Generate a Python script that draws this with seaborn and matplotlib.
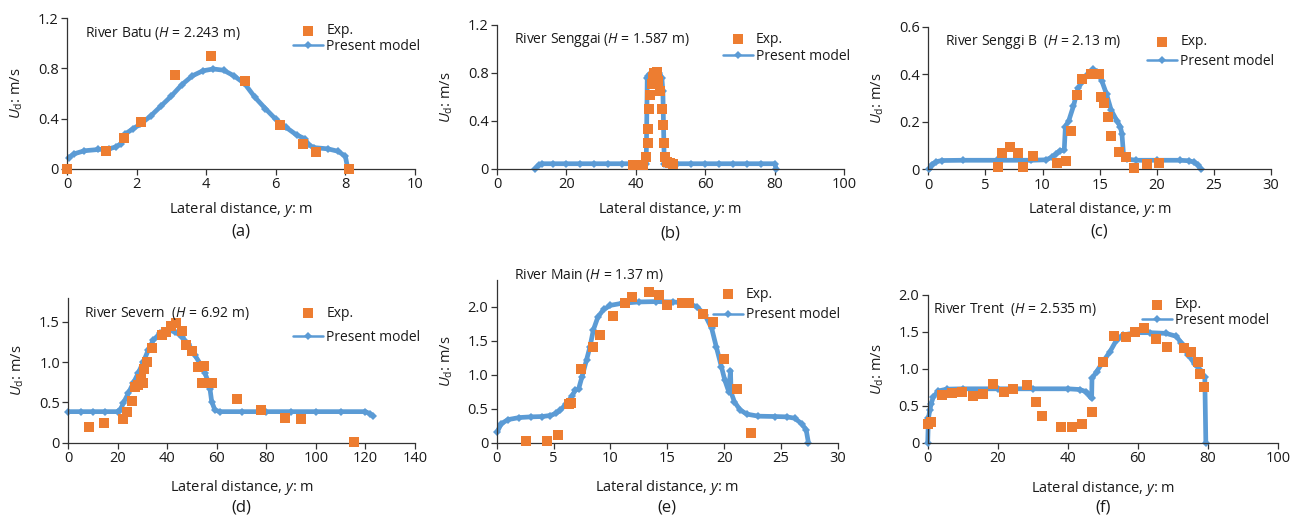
import numpy as np
import pandas as pd
import seaborn as sns
import matplotlib.pyplot as plt
import matplotlib.ticker as mticker

# ---------------- data ----------------
# (a) River Batu
batu_exp_y_pos = [0.0, 1.12, 1.63, 2.13, 3.09, 4.13, 5.12, 6.12, 6.77, 7.15, 8.1]
batu_exp_u = [0.0, 0.14, 0.246, 0.37, 0.747, 0.895, 0.70, 0.347, 0.20, 0.135, 0.0]
batu_mod_y_pos = [0.05, 0.2, 0.5, 0.9, 1.2, 1.4, 1.55, 1.62, 1.68, 1.9, 2.1, 2.4, 2.7, 3.0,
                  3.3, 3.6, 3.9, 4.2, 4.5, 4.8, 5.1, 5.4, 5.7, 6.0, 6.3, 6.6, 6.84, 6.92,
                  7.1, 7.5, 7.8, 8.0, 8.07]
batu_mod_u = [0.09, 0.12, 0.145, 0.155, 0.16, 0.175, 0.2, 0.235, 0.28, 0.32, 0.355, 0.42,
              0.5, 0.58, 0.67, 0.74, 0.78, 0.795, 0.785, 0.74, 0.68, 0.57, 0.48, 0.395,
              0.33, 0.27, 0.24, 0.195, 0.17, 0.16, 0.14, 0.1, 0.0]

# (b) River Senggai
senggai_exp_y_pos = [39.3, 40.7, 42.2, 42.9, 43.4, 43.6, 43.9, 44.1, 44.6, 44.9, 45.2, 46.0,
                     46.5, 47.0, 47.5, 47.8, 48.1, 48.4, 49.0, 49.9, 50.8]
senggai_exp_u = [0.033, 0.033, 0.033, 0.10, 0.22, 0.33, 0.50, 0.617, 0.71, 0.77, 0.80, 0.81,
                 0.73, 0.65, 0.50, 0.37, 0.22, 0.10, 0.06, 0.047, 0.04]
senggai_mod_y_pos = [11.0, 12.0, 13.0, 16, 20, 24, 28, 32, 36, 40, 43.0, 43.3, 43.6, 44.2,
                     45.0, 46.0, 46.8, 47.5, 47.8, 48.2, 48.6, 52, 56, 60, 64, 68, 72, 76,
                     80.0, 80.5]
senggai_mod_u = [0.0, 0.035, 0.044, 0.044, 0.044, 0.044, 0.044, 0.044, 0.044, 0.044, 0.044,
                 0.76, 0.775, 0.79, 0.805, 0.81, 0.8, 0.76, 0.65, 0.044, 0.044, 0.044, 0.044,
                 0.044, 0.044, 0.044, 0.044, 0.044, 0.044, 0.0]

# (c) River Senggi B
senggib_exp_y_pos = [6.07, 6.48, 7.15, 7.82, 8.26, 9.13, 11.23, 12.02, 12.46, 13.01, 13.48,
                     14.24, 14.94, 15.09, 15.41, 15.70, 15.99, 16.69, 17.27, 18.03, 19.11, 20.19]
senggib_exp_u = [0.011, 0.07, 0.095, 0.07, 0.011, 0.056, 0.028, 0.035, 0.16, 0.313, 0.378,
                 0.40, 0.40, 0.306, 0.278, 0.219, 0.14, 0.071, 0.053, 0.007, 0.021, 0.025]
senggib_mod_y_pos = [0.1, 0.3, 0.7, 1.2, 3, 6, 9, 10.3, 10.8, 11.2, 11.5, 11.9, 12.0, 12.3,
                     12.7, 13.1, 13.5, 13.9, 14.4, 14.8, 15.2, 15.6, 16.0, 16.5, 16.8, 16.95,
                     17.1, 17.4, 18.2, 20, 22, 22.8, 23.3, 23.6, 23.9]
senggib_mod_u = [0.0, 0.02, 0.032, 0.037, 0.038, 0.038, 0.038, 0.04, 0.05, 0.065, 0.078,
                 0.08, 0.18, 0.205, 0.265, 0.34, 0.37, 0.395, 0.42, 0.41, 0.37, 0.317, 0.25,
                 0.205, 0.18, 0.15, 0.055, 0.043, 0.038, 0.038, 0.038, 0.036, 0.03, 0.018, 0.0]

# (d) River Severn
severn_exp_y_pos = [8.5, 14.5, 21.9, 23.6, 25.7, 26.8, 28.1, 29.5, 30.3, 30.7, 31.7, 33.9,
                    38.0, 39.3, 41.5, 43.3, 46.0, 47.4, 50.1, 52.2, 54.9, 54.1, 57.9, 68.2,
                    78.0, 87.7, 93.9, 115.5]
severn_exp_u = [0.19, 0.25, 0.29, 0.38, 0.52, 0.69, 0.71, 0.785, 0.74, 0.91, 1.0, 1.18, 1.33,
                1.37, 1.45, 1.48, 1.38, 1.21, 1.14, 0.94, 0.95, 0.74, 0.74, 0.54, 0.40, 0.31,
                0.29, 0.012]
severn_mod_y_pos = [0, 5, 10, 15, 20, 21, 22.2, 24.2, 26.2, 28.2, 30.3, 32.3, 34.3, 37, 40.4,
                    43.1, 45.8, 48.5, 51.1, 53.2, 55.2, 56.5, 57.2, 57.9, 59.2, 61.2, 70, 80,
                    90, 100, 110, 120, 121.8, 123.1]
severn_mod_u = [0.385, 0.385, 0.385, 0.385, 0.385, 0.405, 0.49, 0.61, 0.735, 0.86, 1.0, 1.15,
                1.27, 1.355, 1.395, 1.376, 1.314, 1.223, 1.087, 0.98, 0.86, 0.756, 0.67, 0.51,
                0.405, 0.385, 0.385, 0.385, 0.385, 0.385, 0.385, 0.385, 0.36, 0.33]

# (e) River Main
main_exp_y_pos = [2.58, 4.39, 5.41, 6.35, 6.5, 7.4, 8.43, 9.07, 10.24, 11.27, 11.85, 13.4,
                  14.28, 15.01, 16.33, 16.92, 18.15, 18.97, 19.96, 21.13, 22.39]
main_exp_u = [0.025, 0.025, 0.118, 0.57, 0.59, 1.09, 1.41, 1.59, 1.87, 2.06, 2.14, 2.21, 2.17,
              2.02, 2.06, 2.05, 1.89, 1.77, 1.235, 0.79, 0.147]
main_mod_y_pos = [0.05, 0.4, 1.0, 2.0, 3.0, 4.0, 4.7, 5.2, 5.6, 6.1, 6.6, 6.9, 7.2, 7.5, 7.9,
                  8.2, 8.5, 8.9, 9.4, 10.0, 11.0, 12.5, 14.0, 15.5, 16.8, 17.6, 18.3, 18.9,
                  19.3, 19.75, 20.05, 20.4, 20.55, 20.6, 20.9, 21.4, 22.0, 23.0, 24.5, 25.5,
                  26.2, 26.8, 27.2, 27.4]
main_mod_u = [0.16, 0.28, 0.34, 0.37, 0.38, 0.385, 0.4, 0.43, 0.48, 0.57, 0.68, 0.77, 0.79,
              0.97, 1.22, 1.41, 1.66, 1.85, 1.96, 2.02, 2.05, 2.07, 2.075, 2.07, 2.05, 2.0,
              1.88, 1.68, 1.41, 1.12, 0.92, 0.75, 1.06, 0.74, 0.6, 0.48, 0.42, 0.39, 0.385,
              0.38, 0.36, 0.28, 0.19, 0.0]

# (f) River Trent
trent_exp_y_pos = [0.0, 0.86, 4.2, 7.0, 9.9, 12.8, 15.7, 18.5, 21.9, 24.4, 28.4, 30.8, 32.5,
                   38.0, 41.3, 44.1, 47.0, 50.0, 53.2, 56.7, 59.3, 61.8, 65.3, 68.3, 73.2,
                   75.3, 77.2, 77.7, 78.9]
trent_exp_u = [0.253, 0.275, 0.646, 0.668, 0.69, 0.632, 0.66, 0.795, 0.68, 0.727, 0.78, 0.555,
               0.36, 0.208, 0.217, 0.248, 0.41, 1.088, 1.449, 1.427, 1.503, 1.558, 1.404, 1.3,
               1.287, 1.224, 1.097, 0.925, 0.758]
trent_mod_y_pos = [0.0, 0.2, 0.6, 1.0, 1.6, 3.0, 5.4, 10, 20, 30, 40, 43.4, 45.3, 46.3, 46.8,
                   46.9, 48.2, 50.1, 52.0, 53.9, 55.8, 59.6, 63.4, 68.1, 71.0, 72.4, 74.3,
                   76.2, 77.7, 79.1, 79.4]
trent_mod_u = [0.0, 0.33, 0.44, 0.53, 0.62, 0.70, 0.725, 0.73, 0.73, 0.73, 0.73, 0.72, 0.69,
               0.63, 0.6, 0.87, 0.96, 1.10, 1.23, 1.39, 1.46, 1.49, 1.49, 1.48, 1.44, 1.35,
               1.19, 1.07, 0.98, 0.885, 0.0]

titles = ["River Batu ($H$ = 2.243 m)", "River Senggai ($H$ = 1.587 m)",
          "River Senggi B  ($H$ = 2.13 m)", "River Severn  ($H$ = 6.92 m)",
          "River Main ($H$ = 1.37 m)", "River Trent  ($H$ = 2.535 m)"]
letters = ["(a)", "(b)", "(c)", "(d)", "(e)", "(f)"]

# ---------------- style ----------------
sns.set_theme(style="ticks")
FONT = "Open Sans"
plt.rcParams["font.family"] = [FONT, "DejaVu Sans"]
plt.rcParams["mathtext.fontset"] = "custom"
plt.rcParams["mathtext.rm"] = FONT
plt.rcParams["mathtext.it"] = FONT + ":italic"

ORANGE = "#ED7D31"
BLUE = "#5B9BD5"
AXCOL = "#333333"
TXT = "#1a1a1a"

W, H = 1291, 521
fig = plt.figure(figsize=(W / 100, H / 100), dpi=100)


def fx(px):
    return px / W


def fy(py):
    return 1 - py / H


# layout in pixels: axes box (left, top, right, bottom), title pos, legend pos
panels = [
    dict(exp=(batu_exp_y_pos, batu_exp_u), mod=(batu_mod_y_pos, batu_mod_u),
         box=(67, 18, 415, 169), xlim=(0, 10), xstep=2, ylim=(0, 1.2), ystep=0.4,
         title=(85, 33), leg=(293, 31, 46), xlab=200, letter=231),
    dict(exp=(senggai_exp_y_pos, senggai_exp_u), mod=(senggai_mod_y_pos, senggai_mod_u),
         box=(497, 25, 844, 169), xlim=(0, 100), xstep=20, ylim=(0, 1.2), ystep=0.4,
         title=(514, 40), leg=(722.7, 39.3, 56), xlab=200, letter=233),
    dict(exp=(senggib_exp_y_pos, senggib_exp_u), mod=(senggib_mod_y_pos, senggib_mod_u),
         box=(928.3, 26.7, 1271, 169.3), xlim=(0, 30), xstep=5, ylim=(0, 0.6), ystep=0.2,
         title=(945, 41.7), leg=(1147, 41.7, 61.7), xlab=200, letter=231),
    dict(exp=(severn_exp_y_pos, severn_exp_u), mod=(severn_mod_y_pos, severn_mod_u),
         box=(68.3, 297.5, 415, 442.7), xlim=(0, 140), xstep=20, ylim=(0, 1.8), ystep=0.5,
         title=(84, 313), leg=(293, 313.3, 337.7), xlab=478, letter=507),
    dict(exp=(main_exp_y_pos, main_exp_u), mod=(main_mod_y_pos, main_mod_u),
         box=(496.7, 279.5, 838, 442.7), xlim=(0, 30), xstep=5, ylim=(0, 2.4), ystep=0.5,
         title=(514, 275), leg=(712.7, 294.3, 315), xlab=478, letter=508),
    dict(exp=(trent_exp_y_pos, trent_exp_u), mod=(trent_mod_y_pos, trent_mod_u),
         box=(927.7, 295, 1278, 442.7), xlim=(0, 100), xstep=20, ylim=(0, 2.0), ystep=0.5,
         title=(932.7, 310), leg=(1141.7, 305, 320), xlab=479, letter=508),
]


def ytick_fmt(v, _pos):
    return "0" if abs(v) < 1e-9 else f"{v:.1f}"


for p, title, letter in zip(panels, titles, letters):
    l, t, r, b = p["box"]
    ax = fig.add_axes([fx(l), fy(b), fx(r) - fx(l), fy(t) - fy(b)])

    mx, my = p["mod"]
    ex, ey = p["exp"]
    sns.lineplot(x=mx, y=my, ax=ax, color=BLUE, linewidth=3.4, marker="D",
                 markersize=4, markeredgewidth=0, estimator=None, sort=False,
                 label="Present model", legend=False, clip_on=False, zorder=2)
    model_line = ax.lines[-1]
    sns.scatterplot(x=ex, y=ey, ax=ax, color=ORANGE, marker="s", s=44, linewidth=0,
                    label="Exp.", legend=False, clip_on=False, zorder=3)
    exp_pts = ax.collections[-1]

    ax.set_xlim(*p["xlim"])
    ax.set_ylim(*p["ylim"])
    ax.xaxis.set_major_locator(mticker.MultipleLocator(p["xstep"]))
    ax.yaxis.set_major_locator(mticker.MultipleLocator(p["ystep"]))
    ax.yaxis.set_major_formatter(mticker.FuncFormatter(ytick_fmt))
    ax.xaxis.set_major_formatter(mticker.FormatStrFormatter("%d"))

    sns.despine(ax=ax)
    for s in ("left", "bottom"):
        ax.spines[s].set_color(AXCOL)
        ax.spines[s].set_linewidth(0.9)
    ax.tick_params(direction="out", length=4, width=0.9, color=AXCOL,
                   labelcolor=TXT, labelsize=10.5, pad=2)

    ax.set_xlabel("Lateral distance, $y$: m", fontsize=10.5, color=TXT)
    ax.xaxis.set_label_coords(fx((l + r) / 2), fy(p["xlab"]), transform=fig.transFigure)
    ax.set_ylabel(r"$U_\mathrm{d}$: m/s", fontsize=10.5, color=TXT)
    ax.yaxis.set_label_coords(fx(l - 42), fy((t + b) / 2), transform=fig.transFigure)

    fig.text(fx((l + r) / 2), fy(p["letter"]), letter, ha="center", va="center",
             fontsize=12, color=TXT)
    fig.text(fx(p["title"][0]), fy(p["title"][1]), title, ha="left", va="center",
             fontsize=10, color=TXT)

    hx, ry1, ry2 = p["leg"]
    leg_kw = dict(loc="center left", frameon=False, borderpad=0, borderaxespad=0,
                  handlelength=2.15, handletextpad=0.25, fontsize=10,
                  bbox_transform=fig.transFigure, labelcolor=TXT)
    leg1 = ax.legend([exp_pts], ["Exp."], bbox_to_anchor=(fx(hx), fy(ry1)),
                     scatterpoints=1, **leg_kw)
    ax.add_artist(leg1)
    leg2 = ax.legend([model_line], ["Present model"], bbox_to_anchor=(fx(hx), fy(ry2)),
                     numpoints=1, **leg_kw)
    for ln in leg2.get_lines():
        ln.set_linewidth(1.8)
        ln.set_markersize(4)

fig.savefig("out.png", dpi=100)
